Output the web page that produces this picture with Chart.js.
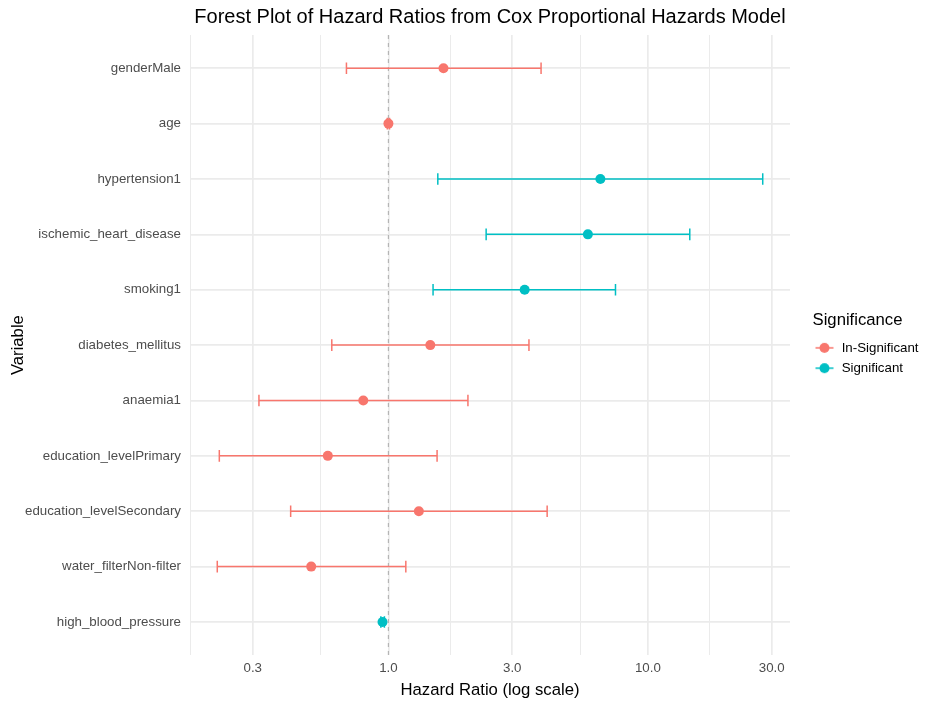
<!DOCTYPE html>
<html>
<head>
<meta charset="utf-8">
<script src="https://cdn.jsdelivr.net/npm/chart.js@4.4.1/dist/chart.umd.min.js"></script>
<style>
  html, body { margin: 0; padding: 0; background: #ffffff; }
  #wrap { width: 925px; height: 703px; }
</style>
</head>
<body>
<div id="wrap"><canvas id="forest" width="925" height="703"></canvas></div>
<script>
// Cox model estimates: hazard ratio with 95% confidence interval per variable
const variables = [
  'genderMale', 'age', 'hypertension1', 'ischemic_heart_disease', 'smoking1',
  'diabetes_mellitus', 'anaemia1', 'education_levelPrimary',
  'education_levelSecondary', 'water_filterNon-filter', 'high_blood_pressure'
];
const hazardRatio = [1.63, 1.00, 6.56, 5.87, 3.35, 1.45, 0.80, 0.584, 1.31, 0.504, 0.949];
const ciLower     = [0.689, 0.99, 1.55, 2.38, 1.486, 0.605, 0.317, 0.223, 0.42, 0.219, 0.935];
const ciUpper     = [3.875, 1.01, 27.7, 14.5, 7.50, 3.48, 2.025, 1.54, 4.09, 1.167, 0.965];
const significance = [
  'In-Significant', 'In-Significant', 'Significant', 'Significant', 'Significant',
  'In-Significant', 'In-Significant', 'In-Significant', 'In-Significant',
  'In-Significant', 'Significant'
];
const groups = ['In-Significant', 'Significant'];
const groupColors = ['#F8766D', '#00BFC4'];
const majorTicks = [0.3, 1, 3, 10, 30];
const breakSequence = [0.1, 0.3, 1, 3, 10, 30, 100];

const FONT = "'Liberation Sans', Arial, Helvetica, sans-serif";

// log-scale limits: data range plus 5% expansion on each side
const logLo = Math.log10(Math.min(...ciLower));
const logHi = Math.log10(Math.max(...ciUpper));
const logPad = (logHi - logLo) * 0.05;
const xMin = Math.pow(10, logLo - logPad);
const xMax = Math.pow(10, logHi + logPad);

// minor grid at geometric midpoints between neighbouring breaks
const minorTicks = [];
for (let i = 0; i < breakSequence.length - 1; i++) {
  const m = Math.sqrt(breakSequence[i] * breakSequence[i + 1]);
  if (m >= xMin && m <= xMax) minorTicks.push(m);
}

// discrete y positions with 0.6 units of padding
const yMin = -0.6;
const yMax = variables.length - 1 + 0.6;

const colorOf = s => groupColors[groups.indexOf(s)];

// estimate points, one dataset per significance group
const pointSets = groups.map((g, gi) => ({
  type: 'scatter',
  label: g,
  data: variables.map((v, i) => ({ x: hazardRatio[i], y: i })).filter((p, i) => significance[i] === g),
  pointRadius: 5,
  pointHoverRadius: 5,
  pointBackgroundColor: groupColors[gi],
  pointBorderWidth: 0,
  showLine: false
}));

// confidence interval bars with end caps
const barSets = variables.map((v, i) => ({
  type: 'line',
  label: v + ' CI',
  data: [{ x: ciLower[i], y: i }, { x: ciUpper[i], y: i }],
  borderColor: colorOf(significance[i]),
  borderWidth: 1.5,
  pointStyle: 'line',
  pointRotation: 90,
  pointRadius: 5.8,
  pointHoverRadius: 5.8,
  pointBorderColor: colorOf(significance[i]),
  pointBorderWidth: 1.5,
  fill: false
}));

// reference line at HR = 1
const refLine = {
  type: 'line',
  label: 'HR = 1',
  data: [{ x: 1, y: yMin }, { x: 1, y: yMax }],
  borderColor: '#B5B5B5',
  borderWidth: 1.2,
  borderDash: [4, 4],
  pointRadius: 0,
  pointHoverRadius: 0,
  fill: false
};

function legendKey(color) {
  const c = document.createElement('canvas');
  c.width = 40; c.height = 14;
  const g = c.getContext('2d');
  const cx = 28.5;
  g.strokeStyle = color; g.lineWidth = 1.5;
  g.beginPath(); g.moveTo(cx - 9, 7); g.lineTo(cx + 9, 7); g.stroke();
  g.fillStyle = color;
  g.beginPath(); g.arc(cx, 7, 5, 0, Math.PI * 2); g.fill();
  return c;
}
const legendKeys = groupColors.map(legendKey);

new Chart(document.getElementById('forest'), {
  type: 'line',
  data: { datasets: [...pointSets, ...barSets, refLine] },
  options: {
    responsive: false,
    animation: false,
    devicePixelRatio: 1,
    layout: { padding: { top: 0, right: 0, bottom: 0, left: 0 } },
    plugins: {
      tooltip: { enabled: false },
      title: {
        display: true,
        fullSize: false,
        text: 'Forest Plot of Hazard Ratios from Cox Proportional Hazards Model',
        color: '#000000',
        font: { family: FONT, size: 20, weight: 'normal' },
        padding: { top: 5, bottom: 6 }
      },
      legend: {
        display: true,
        position: 'right',
        align: 'center',
        maxWidth: 135,
        title: {
          display: true,
          text: 'Significance',
          color: '#000000',
          position: 'center',
          font: { family: FONT, size: 16.7, weight: 'normal' },
          padding: { top: -9, bottom: 2 }
        },
        labels: {
          usePointStyle: true,
          pointStyleWidth: 38,
          padding: 7,
          color: '#000000',
          font: { family: FONT, size: 13.3 },
          generateLabels: () => groups.map((g, i) => ({
            text: g,
            pointStyle: legendKeys[i],
            fillStyle: groupColors[i],
            strokeStyle: groupColors[i],
            lineWidth: 0,
            hidden: false,
            datasetIndex: i
          }))
        }
      }
    },
    scales: {
      x: {
        type: 'logarithmic',
        min: xMin,
        max: xMax,
        afterBuildTicks: scale => {
          scale.ticks = [
            ...minorTicks.map(v => ({ value: v, minor: true })),
            ...majorTicks.map(v => ({ value: v, minor: false }))
          ].sort((a, b) => a.value - b.value);
        },
        afterFit: scale => { scale.height = 47.8; },
        border: { display: false },
        grid: {
          drawTicks: false,
          color: '#EBEBEB',
          lineWidth: ctx => (ctx.tick && ctx.tick.minor ? 1 : 1.7)
        },
        ticks: {
          autoSkip: false,
          maxRotation: 0,
          padding: 5,
          color: '#4D4D4D',
          font: { family: FONT, size: 13.3 },
          callback: (value, index, ticks) => (ticks[index].minor ? '' : Number(value).toFixed(1))
        },
        title: {
          display: true,
          text: 'Hazard Ratio (log scale)',
          color: '#000000',
          font: { family: FONT, size: 16.7 },
          padding: { top: 0, bottom: 3 }
        }
      },
      y: {
        type: 'linear',
        reverse: true,
        min: yMin,
        max: yMax,
        afterBuildTicks: scale => {
          scale.ticks = variables.map((v, i) => ({ value: i }));
        },
        afterFit: scale => { scale.width = 190; },
        border: { display: false },
        grid: { drawTicks: false, color: '#EBEBEB', lineWidth: 1.7 },
        ticks: {
          autoSkip: false,
          padding: 9,
          color: '#4D4D4D',
          font: { family: FONT, size: 13.3 },
          callback: value => variables[value]
        },
        title: {
          display: true,
          text: 'Variable',
          color: '#000000',
          font: { family: FONT, size: 16.7 },
          padding: { top: 8, bottom: 0 }
        }
      }
    }
  }
});
</script>
</body>
</html>
